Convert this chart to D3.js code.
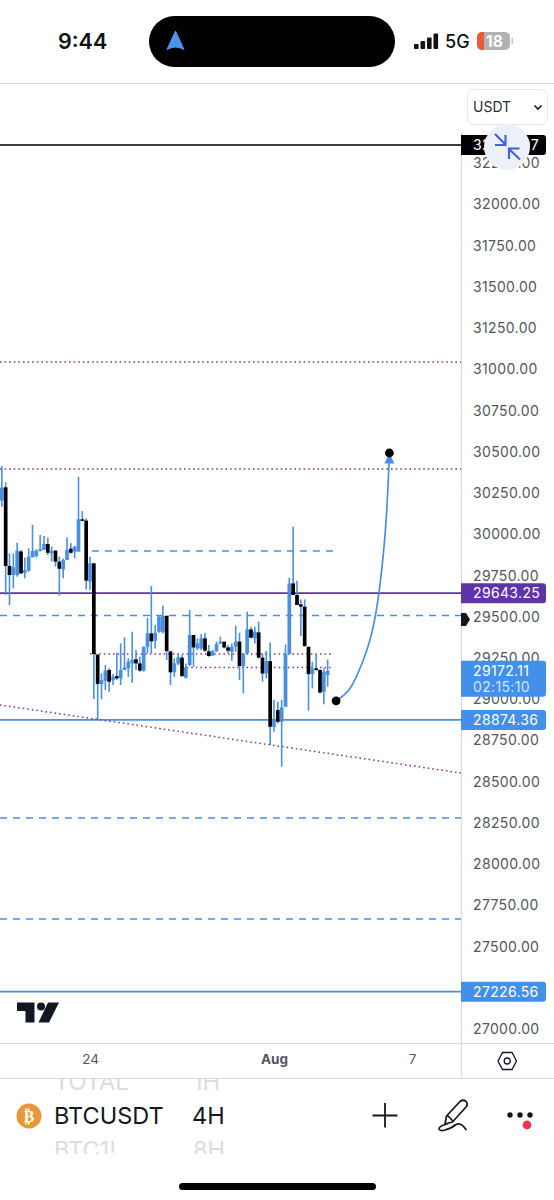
<!DOCTYPE html>
<html>
<head>
<meta charset="utf-8">
<script src="https://cdn.jsdelivr.net/npm/d3@7"></script>
<style>
  html, body { margin: 0; padding: 0; background: #fff; }
  svg { display: block; }
  text { font-family: Inter, "Noto Sans", sans-serif; }
</style>
</head>
<body>
<div id="wrapper"></div>
<script>
// 4H candles, first one sits 23 bars before Jul 24 00:00 UTC
const firstBar = Date.UTC(2023, 6, 24) - 23 * 4 * 3600 * 1000;
const opens = [30204,30285,29808,29753,29753,29896,29767,29779,29860,29868,29901,29905,29941,29884,29901,29834,29787,29844,29913,29895,29895,30091,30083,29713,
  29824,29270,29092,29112,29177,29116,29140,29126,29177,29187,29217,29242,29217,29173,29318,29399,29355,29409,29409,29506,29290,29163,29217,
  29252,29130,29207,29389,29308,29308,29369,29290,29264,29290,29338,29349,29314,29288,29318,29349,29201,29278,29423,29369,29405,29252,29156,29231,
  28833,28934,28863,28954,29274,29702,29632,29575,29561,29318,29152,29187,29177,29045,29146];
const highs = [30414,30315,29884,29884,29949,29905,29860,29915,30058,29909,29996,29989,29979,29925,29905,29864,29854,29981,29945,29929,30349,30141,30097,29864,
  29828,29274,29157,29207,29187,29153,29282,29339,29375,29248,29409,29298,29258,29318,29494,29686,29450,29504,29567,29506,29290,29248,29278,
  29268,29217,29541,29389,29369,29395,29403,29328,29298,29349,29379,29349,29328,29338,29446,29403,29278,29530,29439,29439,29470,29278,29292,29344,
  28995,28985,28995,29332,29737,30046,29718,29605,29605,29318,29227,29274,29181,29187,29241];
const lows = [30167,29632,29571,29672,29743,29759,29733,29773,29860,29860,29895,29905,29874,29834,29804,29628,29733,29844,29884,29854,29895,30083,29666,29662,
  29000,28874,29000,29056,29045,29086,29116,29086,29177,29136,29100,29177,29167,29167,29278,29278,29308,29403,29399,29238,29086,29136,29207,
  29136,29126,29201,29197,29298,29298,29288,29258,29264,29288,29334,29308,29278,29233,29288,29116,29035,29274,29369,29338,29247,29106,29126,28722,
  28803,28853,28591,28954,29274,29632,29571,29383,29318,28930,29066,29173,29035,28969,29076];
const closes = [30283,29808,29753,29800,29901,29763,29783,29864,29899,29901,29909,29941,29888,29899,29834,29791,29844,29905,29888,29925,30091,30083,29719,29824,
  29274,29092,29116,29173,29106,29136,29126,29177,29193,29227,29238,29217,29173,29318,29399,29351,29403,29500,29506,29292,29163,29217,29254,
  29140,29193,29389,29314,29338,29369,29294,29262,29290,29334,29349,29314,29294,29318,29349,29201,29278,29423,29373,29409,29252,29156,29231,28833,
  28878,28863,28950,29274,29702,29632,29571,29561,29322,29152,29183,29177,29041,29167,29172];

const priceTicks = [27000,27250,27500,27750,28000,28250,28500,28750,29000,29250,29500,29750,30000,30250,30500,30750,31000,31250,31500,31750,32000,32250];
const timeTicks = [Date.UTC(2023, 6, 24), Date.UTC(2023, 7, 1), Date.UTC(2023, 7, 7)];
const timeLabels = ["24", "Aug", "7"];

// full width levels
const solidLevels = [32361, 29643.25, 28874.36, 27226.56];
const solidColors = ["#000", "#5e35a8", "#4a90e2", "#4a90e2"];
const dashedLevels = [29507, 28280, 27667];
const dottedLevels = [31045, 30396];
// short levels that start on a given bar: [bar, bar, price]
const shortDashed = [[0.5, 63.5, 29899]];
const shortDotted = [[0, 63.5, 29274], [24, 63.5, 29192]];
// falling trend line, bar and price at both ends
const trendBars = [-23.5, 96.9];
const trendPrices = [28965, 28552];
// the drawn forecast arrow
const arrowBars = [64.2, 67.9, 71.3, 74.4, 77, 78.1];
const arrowPrices = [28990, 29068, 29238, 29499, 30008, 30493];

// price chips on the axis
const chipPrices = [32361, 29643.25, 28874.36, 27226.56];
const chipTexts = ["32360.07", "29643.25", "28874.36", "27226.56"];
const chipColors = ["#000", "#6033a8", "#4390ea", "#4390ea"];

const barTime = i => firstBar + i * 4 * 3600 * 1000;
const bars = d3.range(opens.length);

const dimensions = { width: 554, height: 1200, axisX: 461, chartTop: 84, chartBottom: 1043, stripBottom: 1078 };

const svg = d3.select("#wrapper").append("svg")
  .attr("width", dimensions.width)
  .attr("height", dimensions.height);

const xScale = d3.scaleUtc().domain([timeTicks[0], timeTicks[2]]).range([90, 412]);
const yScale = d3.scaleLinear().domain([32000, 27000]).range([204.5, 1029]);

svg.append("clipPath").attr("id", "chartClip").append("rect")
  .attr("x", 0).attr("y", dimensions.chartTop)
  .attr("width", dimensions.axisX).attr("height", dimensions.chartBottom - dimensions.chartTop);

// frame lines
const frame = [[0, 83.5, 554, 83.5], [0, 1043.5, 554, 1043.5], [0, 1078.5, 554, 1078.5], [461.5, 132, 461.5, 1078]];
svg.append("g").selectAll("line").data(frame).enter().append("line")
  .attr("x1", d => d[0]).attr("y1", d => d[1]).attr("x2", d => d[2]).attr("y2", d => d[3])
  .attr("stroke", "#d9dadf").attr("stroke-width", 1.2);

// axes
const yAxis = d3.axisRight(yScale).tickValues(priceTicks).tickFormat(d3.format(".2f")).tickSize(0).tickPadding(0);
svg.append("g").attr("transform", "translate(473,0)").call(yAxis)
  .call(g => g.select(".domain").remove())
  .call(g => g.selectAll("text").attr("fill", "#54565c").style("font-size", "14px").style("letter-spacing", "0.35px").style("font-family", "Inter"));

const xAxis = d3.axisBottom(xScale).tickValues(timeTicks).tickFormat((d, i) => timeLabels[i]).tickSize(0).tickPadding(0);
svg.append("g").attr("transform", "translate(0,1054)").call(xAxis)
  .call(g => g.select(".domain").remove())
  .call(g => g.selectAll("text").attr("fill", "#54565c").style("font-size", "13.5px").style("font-family", "Inter")
    .style("font-weight", (d, i) => i === 1 ? 700 : 400));

const plot = svg.append("g").attr("clip-path", "url(#chartClip)");
const lineAt = (price, x1, x2) => plot.append("line")
  .attr("x1", x1).attr("x2", x2).attr("y1", yScale(price)).attr("y2", yScale(price));

solidLevels.forEach((p, i) => lineAt(p, 0, dimensions.axisX).attr("stroke", solidColors[i]).attr("stroke-width", 1.6));
dashedLevels.forEach(p => lineAt(p, 0, dimensions.axisX).attr("stroke", "#4a90e2").attr("stroke-width", 1.5).attr("stroke-dasharray", "7 6"));
dottedLevels.forEach(p => lineAt(p, 0, dimensions.axisX).attr("stroke", "#85379a").attr("stroke-width", 1.5).attr("stroke-dasharray", "1.6 3"));
shortDashed.forEach(d => lineAt(d[2], xScale(barTime(d[0] + 23)), xScale(barTime(d[1] + 23))).attr("stroke", "#4a90e2").attr("stroke-width", 1.5).attr("stroke-dasharray", "7 6"));
shortDotted.forEach(d => lineAt(d[2], xScale(barTime(d[0] + 23)), xScale(barTime(d[1] + 23))).attr("stroke", "#85379a").attr("stroke-width", 1.5).attr("stroke-dasharray", "1.6 3"));

plot.append("line")
  .attr("x1", xScale(barTime(trendBars[0] + 23))).attr("y1", yScale(trendPrices[0]))
  .attr("x2", xScale(barTime(trendBars[1] + 23))).attr("y2", yScale(trendPrices[1]))
  .attr("stroke", "#85379a").attr("stroke-width", 1.5).attr("stroke-dasharray", "1.6 3");

// candles: all wicks blue, bodies blue when up and black when down
plot.append("g").selectAll("line").data(bars).enter().append("line")
  .attr("x1", i => xScale(barTime(i))).attr("x2", i => xScale(barTime(i)))
  .attr("y1", i => yScale(highs[i])).attr("y2", i => yScale(lows[i]))
  .attr("stroke", "#4a90e2").attr("stroke-width", 1.6);

plot.append("g").selectAll("rect").data(bars).enter().append("rect")
  .attr("x", i => xScale(barTime(i)) - 1.85)
  .attr("width", 3.7)
  .attr("y", i => yScale(Math.max(opens[i], closes[i])))
  .attr("height", i => Math.max(1.6, Math.abs(yScale(opens[i]) - yScale(closes[i]))))
  .attr("fill", i => closes[i] >= opens[i] ? "#4a90e2" : "#000");

// forecast arrow
const arrowPoints = arrowBars.map((b, i) => [xScale(barTime(b + 23)), yScale(arrowPrices[i])]);
plot.append("path")
  .attr("d", d3.line().curve(d3.curveNatural)(arrowPoints))
  .attr("fill", "none").attr("stroke", "#4a90e2").attr("stroke-width", 1.7);
const tip = arrowPoints[arrowPoints.length - 1];
plot.append("path")
  .attr("d", `M${tip[0]},${tip[1]}l-5,10.5l10,0z`).attr("fill", "#4a90e2");
[arrowPoints[0], tip].forEach(p => plot.append("circle").attr("cx", p[0]).attr("cy", p[1]).attr("r", 4.4).attr("fill", "#000"));

// logo
const logo = svg.append("g").attr("fill", "#131722");
logo.append("path").attr("d", "M17,1002.5H34.5V1022.5H25.5V1011H17Z");
logo.append("circle").attr("cx", 41).attr("cy", 1006.5).attr("r", 4);
logo.append("path").attr("d", "M48,1002.5H59L49,1022.5H38.5Z");

// axis chips
const chips = svg.append("g");
chipPrices.forEach((p, i) => {
  const cy = yScale(p);
  chips.append("path").attr("d", `M461,${cy - 10}H543a3,3 0 0 1 3,3V${cy + 7}a3,3 0 0 1 -3,3H461Z`).attr("fill", chipColors[i]);
  chips.append("text").attr("x", 473).attr("y", cy + 5).attr("fill", "#fff")
    .style("font-size", "14px").style("letter-spacing", "0.35px").text(chipTexts[i]);
});

// last price chip with countdown
const lastY = yScale(closes[closes.length - 1]);
chips.append("path").attr("d", `M461,${lastY - 10}H543a3,3 0 0 1 3,3V${lastY + 23}a3,3 0 0 1 -3,3H461Z`).attr("fill", "#4390ea");
chips.append("text").attr("x", 473).attr("y", lastY + 5).attr("fill", "#fff").style("font-size", "14px").style("letter-spacing", "0.35px").text("29172.11");
chips.append("text").attr("x", 473).attr("y", lastY + 21).attr("fill", "#d5e6fb").style("font-size", "14px").style("letter-spacing", "0.35px").text("02:15:10");

// small marker on the axis
svg.append("path").attr("d", "M461,613H466L470,619.5L466,626H461Z").attr("fill", "#131722");

// USDT selector
svg.append("rect").attr("x", 467.5).attr("y", 89.5).attr("width", 80).attr("height", 35).attr("rx", 6)
  .attr("fill", "#fff").attr("stroke", "#e6e7ec");
svg.append("text").attr("x", 473).attr("y", 112).attr("fill", "#2b2d33").style("font-size", "14px").text("USDT");
svg.append("path").attr("d", "M534.5,105.5l3.5,3.5l3.5,-3.5").attr("fill", "none").attr("stroke", "#131722").attr("stroke-width", 1.6);

// round collapse button
svg.append("circle").attr("cx", 507).attr("cy", 147).attr("r", 23).attr("fill", "#edf0f8");
svg.append("path")
  .attr("d", "M495,134L505.5,144.5M505.5,135V145H495M520,159.5L509,149M509,159V148.5H519.5")
  .attr("fill", "none").attr("stroke", "#3f63e0").attr("stroke-width", 2.2);

// settings hexagon under the price axis
svg.append("path").attr("d", "M498,1061L502.5,1052.5H512L516.5,1061L512,1069.5H502.5Z").attr("fill", "none").attr("stroke", "#131722").attr("stroke-width", 1.3);
svg.append("circle").attr("cx", 507.2).attr("cy", 1061).attr("r", 3).attr("fill", "none").attr("stroke", "#131722").attr("stroke-width", 1.3);

// status bar
svg.append("text").attr("x", 58).attr("y", 49).attr("fill", "#111").style("font-size", "21.5px").style("font-weight", 600).text("9:44");
svg.append("rect").attr("x", 149).attr("y", 16).attr("width", 246).attr("height", 51).attr("rx", 25.5).attr("fill", "#000");
svg.append("path").attr("d", "M175.5,31L184,49.5Q175.5,44.5 167,49.5Z").attr("fill", "#4a94f0").attr("stroke", "#4a94f0").attr("stroke-width", 1).attr("stroke-linejoin", "round");
const signal = svg.append("g").attr("fill", "#111");
[[414, 44], [420.5, 41], [427, 37.5], [433.5, 33.5]].forEach(d => signal.append("rect")
  .attr("x", d[0]).attr("y", d[1]).attr("width", 4.6).attr("height", 49 - d[1]).attr("rx", 1));
svg.append("text").attr("x", 445).attr("y", 48).attr("fill", "#111").style("font-size", "18px").style("font-weight", 500).text("5G");
svg.append("rect").attr("x", 477).attr("y", 32).attr("width", 33).attr("height", 18).attr("rx", 5).attr("fill", "#b3b3b5");
svg.append("path").attr("d", "M482,32H484V50H482A5,5 0 0 1 477,45V37A5,5 0 0 1 482,32Z").attr("fill", "#ec5a36");
svg.append("text").attr("x", 486).attr("y", 47).attr("fill", "#fff").style("font-size", "15.5px").style("font-weight", 700).text("18");
svg.append("rect").attr("x", 511.5).attr("y", 38).attr("width", 1.5).attr("height", 6).attr("fill", "#c4c4c6");

// bottom toolbar
svg.append("clipPath").attr("id", "pickerClip").append("rect").attr("x", 0).attr("y", 1079).attr("width", 554).attr("height", 75);
const picker = svg.append("g").attr("clip-path", "url(#pickerClip)").style("font-size", "23.5px").attr("fill", "#dcdcde");
picker.append("text").attr("x", 54).attr("y", 1090).text("TOTAL");
picker.append("text").attr("x", 193).attr("y", 1090).text("1H");
picker.append("text").attr("x", 54).attr("y", 1158).text("BTC1!");
picker.append("text").attr("x", 193).attr("y", 1158).text("8H");
svg.append("text").attr("x", 54).attr("y", 1124).attr("fill", "#131722").style("font-size", "23.5px").text("BTCUSDT");
svg.append("text").attr("x", 192).attr("y", 1124).attr("fill", "#131722").style("font-size", "23.5px").text("4H");
svg.append("circle").attr("cx", 29).attr("cy", 1116).attr("r", 12.5).attr("fill", "#e8963a");
svg.append("text").attr("x", 29).attr("y", 1122).attr("text-anchor", "middle").attr("fill", "#fff")
  .style("font-size", "16px").style("font-weight", 700).style("font-family", "DejaVu Sans").text("₿");

// plus
svg.append("path").attr("d", "M385,1103V1127.5M372.5,1115.5H397.5").attr("stroke", "#131722").attr("stroke-width", 1.8);
// pen
svg.append("path")
  .attr("d", "M445,1124L446.5,1116L460,1101.5Q463,1099 466,1101.5Q468.5,1104 466,1107L452.5,1122ZM447.5,1115.5L453,1121M447,1124Q439,1126 439,1129Q440,1131.5 445,1130Q452,1128 456,1124.5Q461,1122 466,1129.5")
  .attr("fill", "none").attr("stroke", "#131722").attr("stroke-width", 1.7).attr("stroke-linecap", "round").attr("stroke-linejoin", "round");
// more menu
[510, 520, 530].forEach(x => svg.append("circle").attr("cx", x).attr("cy", 1115).attr("r", 2.7).attr("fill", "#131722"));
svg.append("circle").attr("cx", 527).attr("cy", 1125).attr("r", 4.4).attr("fill", "#ec3350");

// home indicator
svg.append("rect").attr("x", 179).attr("y", 1183).attr("width", 197).attr("height", 7).attr("rx", 3.5).attr("fill", "#000");
</script>
</body>
</html>
